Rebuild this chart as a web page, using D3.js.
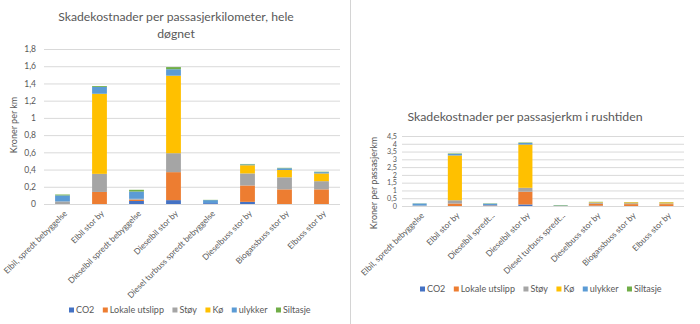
<!DOCTYPE html>
<html>
<head>
<meta charset="utf-8">
<script src="https://cdn.jsdelivr.net/npm/d3@7"></script>
<style>
  html, body { margin: 0; padding: 0; background: #fff; }
  svg { display: block; font-family: Lato, "Open Sans", sans-serif; }
</style>
</head>
<body>
<svg id="chart" width="700" height="324"></svg>
<script>
"use strict";

// categories, full and shortened (the right chart cuts long names)
const categories = ["Elbil, spredt bebyggelse", "Elbil stor by", "Dieselbil spredt bebyggelse", "Dieselbil stor by",
    "Diesel turbuss spredt bebyggelse", "Dieselbuss stor by", "Biogassbuss stor by", "Elbuss stor by"];
const categoriesShort = ["Elbil, spredt bebyggelse", "Elbil stor by", "Dieselbil spredt...", "Dieselbil stor by",
    "Diesel turbuss spredt...", "Dieselbuss stor by", "Biogassbuss stor by", "Elbuss stor by"];

const seriesNames = ["CO2", "Lokale utslipp", "Støy", "Kø", "ulykker", "Siltasje"];
const seriesColors = ["#4472C4", "#ED7D31", "#A5A5A5", "#FFC000", "#5B9BD5", "#70AD47"];

// kroner per passasjerkm, hele døgnet
const co2Day      = [0, 0, 0.035, 0.045, 0.01, 0.025, 0, 0];
const lokaleDay   = [0, 0.14, 0.015, 0.325, 0, 0.19, 0.17, 0.17];
const stoyDay     = [0.03, 0.21, 0.01, 0.22, 0, 0.14, 0.14, 0.095];
const koDay       = [0, 0.93, 0, 0.9, 0, 0.095, 0.085, 0.09];
const ulykkerDay  = [0.07, 0.08, 0.085, 0.075, 0.035, 0.01, 0.02, 0.015];
const siltasjeDay = [0.01, 0.01, 0.02, 0.025, 0.003, 0.005, 0.005, 0.005];

// kroner per passasjerkm i rushtiden
const co2Rush      = [0, 0, 0.035, 0.1, 0.01, 0.02, 0, 0];
const lokaleRush   = [0, 0.16, 0.015, 0.82, 0, 0.12, 0.12, 0.12];
const stoyRush     = [0.03, 0.21, 0.01, 0.25, 0, 0.06, 0.06, 0.05];
const koRush       = [0, 2.88, 0, 2.78, 0, 0.04, 0.06, 0.07];
const ulykkerRush  = [0.13, 0.1, 0.09, 0.1, 0.02, 0.01, 0.01, 0.01];
const siltasjeRush = [0.01, 0.03, 0.02, 0.03, 0.03, 0.02, 0.005, 0.005];

const dayTicks  = [0, 0.2, 0.4, 0.6, 0.8, 1, 1.2, 1.4, 1.6, 1.8];
const rushTicks = [0, 0.5, 1, 1.5, 2, 2.5, 3, 3.5, 4, 4.5];

const textColor = "#595959";
const gridColor = "#d9d9d9";

const svg = d3.select("#chart");

const fmt = (v) => String(v).replace(".", ",");

/**
 * Draw one stacked column chart with title, axes and legend.
 */
function drawChart(opts) {
    const g = svg.append("g");

    const rows = categories.map((c, i) => {
        const row = { cat: i };
        opts.series.forEach((s, k) => { row[seriesNames[k]] = s[i]; });
        return row;
    });
    const stacked = d3.stack().keys(seriesNames)(rows);

    const x = d3.scaleBand()
        .domain(d3.range(categories.length))
        .range([opts.left, opts.right])
        .paddingInner(0.6)
        .paddingOuter(0.3);
    const y = d3.scaleLinear()
        .domain([0, opts.max])
        .range([opts.bottom, opts.top]);

    // gridlines and tick labels
    const axis = g.append("g")
        .attr("transform", `translate(${opts.left},0)`)
        .call(d3.axisLeft(y)
            .tickValues(opts.ticks)
            .tickSize(-(opts.right - opts.left))
            .tickPadding(opts.tickPad)
            .tickFormat(fmt));
    axis.select(".domain").remove();
    axis.selectAll(".tick line").attr("stroke", gridColor).attr("stroke-width", 1);
    axis.selectAll(".tick text")
        .attr("fill", textColor)
        .attr("font-size", opts.tickFont)
        .attr("font-family", "Lato, sans-serif");

    g.selectAll("g.layer")
        .data(stacked)
        .join("g")
        .attr("class", "layer")
        .attr("fill", (d, k) => seriesColors[k])
        .selectAll("rect")
        .data(d => d)
        .join("rect")
        .attr("x", d => x(d.data.cat))
        .attr("width", x.bandwidth())
        .attr("y", d => y(d[1]))
        .attr("height", d => Math.max(0, y(d[0]) - y(d[1])));

    // category labels, rotated
    g.selectAll("text.cat")
        .data(opts.labels)
        .join("text")
        .attr("class", "cat")
        .attr("transform", (d, i) => `translate(${x(i) + x.bandwidth() / 2 + 3},${opts.bottom + 8}) rotate(-45)`)
        .attr("text-anchor", "end")
        .attr("dy", "0.35em")
        .attr("font-size", 8.3)
        .attr("fill", textColor)
        .text(d => d);

    // title
    g.append("text")
        .attr("text-anchor", "middle")
        .attr("fill", textColor)
        .attr("font-size", opts.titleFont)
        .selectAll("tspan")
        .data(opts.title)
        .join("tspan")
        .attr("x", opts.titleX)
        .attr("y", (d, i) => opts.titleY + i * 17)
        .text(d => d);

    // y axis title
    g.append("text")
        .attr("transform", `translate(${opts.yLabelX},${opts.yLabelY}) rotate(-90)`)
        .attr("text-anchor", "middle")
        .attr("font-size", 9)
        .attr("fill", textColor)
        .text(opts.yLabel);

    // legend
    const legend = g.append("g")
        .attr("transform", `translate(${opts.legendX},${opts.legendY})`);
    let offset = 0;
    seriesNames.forEach((name, k) => {
        const item = legend.append("g").attr("transform", `translate(${offset},0)`);
        item.append("rect")
            .attr("x", 0).attr("y", -5.5)
            .attr("width", 5).attr("height", 5)
            .attr("fill", seriesColors[k]);
        const label = item.append("text")
            .attr("x", 7)
            .attr("y", 0)
            .attr("font-size", 9)
            .attr("fill", textColor)
            .text(name);
        offset += 7 + label.node().getComputedTextLength() + 8.5;
    });
}

drawChart({
    series: [co2Day, lokaleDay, stoyDay, koDay, ulykkerDay, siltasjeDay],
    labels: categories,
    left: 44, right: 340, top: 49, bottom: 204,
    max: 1.8, ticks: dayTicks, tickPad: 8, tickFont: 8.5,
    title: ["Skadekostnader per passasjerkilometer, hele", "døgnet"],
    titleX: 176, titleY: 21, titleFont: 12.2,
    yLabel: "Kroner per km", yLabelX: 17, yLabelY: 125,
    legendX: 69, legendY: 313
});

drawChart({
    series: [co2Rush, lokaleRush, stoyRush, koRush, ulykkerRush, siltasjeRush],
    labels: categoriesShort,
    left: 402, right: 684, top: 136, bottom: 206,
    max: 4.5, ticks: rushTicks, tickPad: 5, tickFont: 7.2,
    title: ["Skadekostnader per passasjerkm i rushtiden"],
    titleX: 525, titleY: 121, titleFont: 12.3,
    yLabel: "Kroner per passasjerkm", yLabelX: 377, yLabelY: 183,
    legendX: 420, legendY: 292
});

// divider between the two pictures
svg.append("line")
    .attr("x1", 350.5).attr("x2", 350.5)
    .attr("y1", 0).attr("y2", 324)
    .attr("stroke", "#d4d4d4");
</script>
</body>
</html>
